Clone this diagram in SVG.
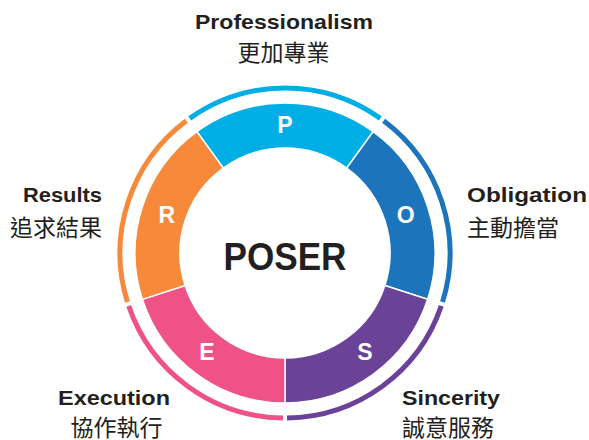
<svg xmlns="http://www.w3.org/2000/svg" width="589" height="440" viewBox="0 0 589 440">
<style>
.seg{stroke:#fff;stroke-width:1.5}
.ring{fill:none;stroke-width:5}
.let{font-family:"Liberation Sans",Arial,sans-serif;font-weight:bold;font-size:23px;fill:#fff;text-anchor:middle}
.en{font-family:"Liberation Sans",Arial,sans-serif;font-weight:bold;font-size:21px;fill:#231f20}
.zh{font-family:"Liberation Sans","Noto Sans CJK TC",sans-serif;font-size:23px;fill:#231f20}
</style>
<rect width="589" height="440" fill="#fff"/>
<g id="node-P">
<path class="seg" fill="#00aee6" d="M196.832,131.647 A150,150 0 0 1 373.168,131.647 L346.717,168.053 A105,105 0 0 0 223.283,168.053 Z"/>
<path class="ring" stroke="#00aee6" d="M189.653,118.337 A165,165 0 0 1 380.347,118.337"/>
<text class="let" x="285" y="133.3">P</text>
<text class="en" x="284" y="29" text-anchor="middle" textLength="178" lengthAdjust="spacingAndGlyphs">Professionalism</text>
<text class="zh" x="283.5" y="61" text-anchor="middle">更加專業</text>
</g>
<g id="node-O">
<path class="seg" fill="#1c75bc" d="M373.168,131.647 A150,150 0 0 1 427.659,299.353 L384.861,285.447 A105,105 0 0 0 346.717,168.053 Z"/>
<path class="ring" stroke="#1c75bc" d="M383.609,120.706 A165,165 0 0 1 442.535,302.066"/>
<text class="let" x="405.8" y="223">O</text>
<text class="en" x="467" y="202" textLength="120" lengthAdjust="spacingAndGlyphs">Obligation</text>
<text class="zh" x="467" y="236">主動擔當</text>
</g>
<g id="node-S">
<path class="seg" fill="#6a4399" d="M427.659,299.353 A150,150 0 0 1 285,403 L285,358 A105,105 0 0 0 384.861,285.447 Z"/>
<path class="ring" stroke="#6a4399" d="M441.290,305.901 A165,165 0 0 1 287.016,417.988"/>
<text class="let" x="365" y="360">S</text>
<text class="en" x="402" y="405" textLength="98" lengthAdjust="spacingAndGlyphs">Sincerity</text>
<text class="zh" x="402" y="436">誠意服務</text>
</g>
<g id="node-E">
<path class="seg" fill="#ef5286" d="M285,403 A150,150 0 0 1 142.341,299.353 L185.139,285.447 A105,105 0 0 0 285,358 Z"/>
<path class="ring" stroke="#ef5286" d="M282.984,417.988 A165,165 0 0 1 128.710,305.901"/>
<text class="let" x="207" y="360">E</text>
<text class="en" x="114" y="405" text-anchor="middle" textLength="112" lengthAdjust="spacingAndGlyphs">Execution</text>
<text class="zh" x="116.5" y="436" text-anchor="middle">協作執行</text>
</g>
<g id="node-R">
<path class="seg" fill="#f6893a" d="M142.341,299.353 A150,150 0 0 1 196.832,131.647 L223.283,168.053 A105,105 0 0 0 185.139,285.447 Z"/>
<path class="ring" stroke="#f6893a" d="M127.465,302.066 A165,165 0 0 1 186.391,120.706"/>
<text class="let" x="166.7" y="223">R</text>
<text class="en" x="102" y="202" text-anchor="end" textLength="79" lengthAdjust="spacingAndGlyphs">Results</text>
<text class="zh" x="102" y="236" text-anchor="end">追求結果</text>
</g>
<g id="center">
<text x="285" y="270" text-anchor="middle" font-family="Liberation Sans,Arial,sans-serif" font-weight="bold" font-size="39" fill="#231f20" textLength="123" lengthAdjust="spacingAndGlyphs">POSER</text>
</g>
<g id="connectors"></g>
</svg>
